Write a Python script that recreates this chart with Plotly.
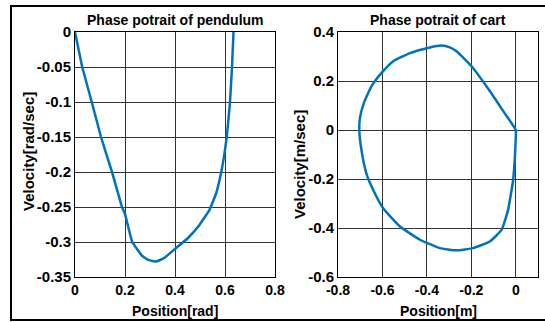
import plotly.graph_objects as go

# Pendulum phase portrait (position [rad], velocity [rad/sec])
pend_pos = [0.0, 0.029, 0.067, 0.104, 0.148, 0.188, 0.2, 0.229, 0.269, 0.295, 0.325,
            0.356, 0.403, 0.45, 0.497, 0.538, 0.565, 0.585, 0.598, 0.607, 0.62, 0.628, 0.634]
pend_vel = [0.0, -0.05, -0.1, -0.15, -0.2, -0.25, -0.26, -0.3, -0.32, -0.326, -0.328,
            -0.323, -0.309, -0.295, -0.276, -0.254, -0.23, -0.2, -0.173, -0.15, -0.1, -0.05, 0.0]

# Cart phase portrait (position [m], velocity [m/sec])
cart_pos = [0.0, -0.057, -0.117, -0.199, -0.267, -0.297, -0.334, -0.387, -0.476, -0.551,
            -0.604, -0.649, -0.683, -0.701, -0.704, -0.694, -0.672, -0.641, -0.596, -0.521,
            -0.431, -0.342, -0.267, -0.192, -0.117, -0.064, -0.035, -0.012, -0.004, 0.0, 0.0]
cart_vel = [0.0, 0.078, 0.159, 0.26, 0.321, 0.337, 0.345, 0.337, 0.314, 0.281,
            0.233, 0.179, 0.112, 0.051, -0.003, -0.084, -0.178, -0.246, -0.32, -0.394,
            -0.448, -0.482, -0.491, -0.482, -0.455, -0.408, -0.327, -0.205, -0.111, -0.03, 0.0]

titles = ["Phase potrait of pendulum", "Phase potrait of cart"]
xlabels = ["Position[rad]", "Position[m]"]
ylabels = ["Velocity[rad/sec]", "Velocity[m/sec]"]

# tick values / labels (hyphen minus as in the original)
x1_ticks = [0, 0.2, 0.4, 0.6, 0.8]
x1_text = ["0", "0.2", "0.4", "0.6", "0.8"]
y1_ticks = [0, -0.05, -0.1, -0.15, -0.2, -0.25, -0.3, -0.35]
y1_text = ["0", "-0.05", "-0.1", "-0.15", "-0.2", "-0.25", "-0.3", "-0.35"]
x2_ticks = [-0.8, -0.6, -0.4, -0.2, 0]
x2_text = ["-0.8", "-0.6", "-0.4", "-0.2", "0"]
y2_ticks = [0.4, 0.2, 0, -0.2, -0.4, -0.6]
y2_text = ["0.4", "0.2", "0", "-0.2", "-0.4", "-0.6"]

W, H = 545, 322
FONT = "Liberation Sans, Arial, sans-serif"
LINE = "#0072BD"
GRID = "#333333"

def px(x):
    return x / W

def py(y):
    return 1 - y / H

fig = go.Figure()
fig.add_trace(go.Scatter(x=pend_pos, y=pend_vel, mode="lines",
                         line=dict(color=LINE, width=2.5, shape="spline", smoothing=0.3),
                         xaxis="x", yaxis="y"))
fig.add_trace(go.Scatter(x=cart_pos, y=cart_vel, mode="lines",
                         line=dict(color=LINE, width=2.5, shape="spline", smoothing=0.4),
                         xaxis="x2", yaxis="y2"))

axcommon = dict(showgrid=True, gridcolor=GRID, gridwidth=1, zeroline=False,
                showline=True, linecolor="black", linewidth=1, mirror=True,
                automargin=False, tickmode="array", ticks="")
xfont = dict(family=FONT, size=14, color="black", weight="bold")
ytfont = dict(family=FONT, size=15, color="black", weight="bold")

fig.update_layout(
    template="none",
    width=W, height=H, margin=dict(l=0, r=0, t=0, b=0, autoexpand=False),
    paper_bgcolor="white", plot_bgcolor="white", showlegend=False,
    xaxis=dict(domain=[px(75), px(275)], range=[0, 0.8], tickvals=x1_ticks, ticktext=x1_text,
               anchor="y", tickfont=xfont, **axcommon),
    yaxis=dict(domain=[py(277), py(32)], range=[-0.35, 0], tickvals=y1_ticks, ticktext=y1_text,
               anchor="x", tickfont=ytfont, **axcommon),
    xaxis2=dict(domain=[px(338), px(538)], range=[-0.8, 0.1], tickvals=x2_ticks, ticktext=x2_text,
                anchor="y2", tickfont=xfont, **axcommon),
    yaxis2=dict(domain=[py(277), py(32)], range=[-0.6, 0.4], tickvals=y2_ticks, ticktext=y2_text,
                anchor="x2", tickfont=ytfont, **axcommon),
)

# outer frame
fig.add_shape(type="rect", xref="paper", yref="paper",
              x0=px(11), x1=1.02, y0=py(320), y1=py(6),
              line=dict(color="black", width=2), fillcolor="rgba(0,0,0,0)")

tfont = dict(family=FONT, size=14, color="black", weight="bold")
yfont = dict(family=FONT, size=15, color="black", weight="bold")
ann = [
    dict(text=titles[0], x=px(175), y=py(20)),
    dict(text=titles[1], x=px(438), y=py(20)),
    dict(text=xlabels[0], x=px(175), y=py(311)),
    dict(text=xlabels[1], x=px(438), y=py(311)),
    dict(text=ylabels[0], x=px(28), y=py(152), textangle=-90, font=yfont),
    dict(text=ylabels[1], x=px(299), y=py(165), textangle=-90, font=yfont),
]
for a in ann:
    a.setdefault("font", tfont)
    fig.add_annotation(xref="paper", yref="paper", xanchor="center", yanchor="middle",
                       showarrow=False, **a)

fig.write_html("out.html")
